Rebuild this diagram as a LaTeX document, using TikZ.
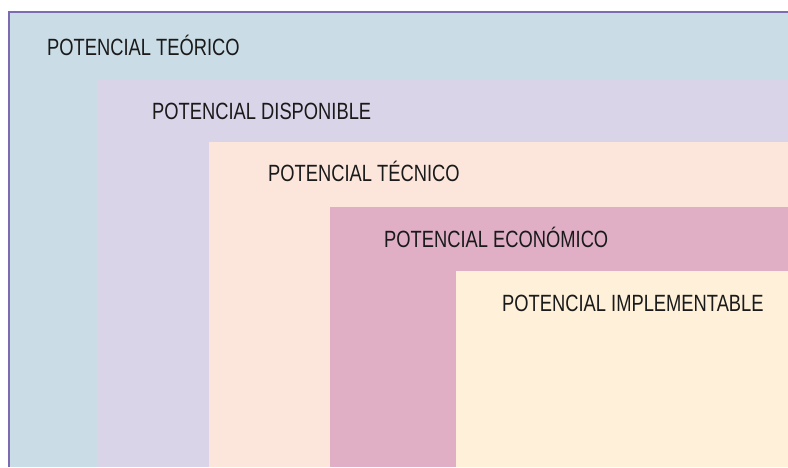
\documentclass[tikz,border=0pt]{standalone}
\usepackage{fontspec}
\setmainfont{Liberation Sans}[FakeStretch=0.78]
\definecolor{cTeo}{HTML}{CADCE5}
\definecolor{cDis}{HTML}{DAD4E8}
\definecolor{cTec}{HTML}{FCE6DC}
\definecolor{cEco}{HTML}{E0AFC6}
\definecolor{cImp}{HTML}{FEF0D9}
\definecolor{cBorder}{HTML}{7B6BB0}
\definecolor{cText}{HTML}{1A1A1A}
\tikzset{
  lbl/.style={anchor=base west, inner sep=0pt, text=cText, font=\fontsize{23.5}{25}\selectfont},
}
\begin{document}
\begin{tikzpicture}[x=1pt,y=-1pt]
\useasboundingbox (0,0) rectangle (788,467);
\fill[white] (0,0) rectangle (788,467);
\fill[cTeo] (9,12) rectangle (788,467);
\fill[cDis] (98,80) rectangle (788,467);
\fill[cTec] (209,142) rectangle (788,467);
\fill[cEco] (330,207) rectangle (788,467);
\fill[cImp] (456,271) rectangle (788,467);
\draw[cBorder, line width=2.4pt] (8.8,467) -- (8.8,12) -- (788,12);
\node[lbl] (teo) at (47,55) {POTENCIAL TEÓRICO};
\node[lbl] (dis) at (152,119) {POTENCIAL DISPONIBLE};
\node[lbl] (tec) at (268,181) {POTENCIAL TÉCNICO};
\node[lbl] (eco) at (384,247) {POTENCIAL ECONÓMICO};
\node[lbl] (imp) at (502,311) {POTENCIAL IMPLEMENTABLE};
\end{tikzpicture}
\end{document}
